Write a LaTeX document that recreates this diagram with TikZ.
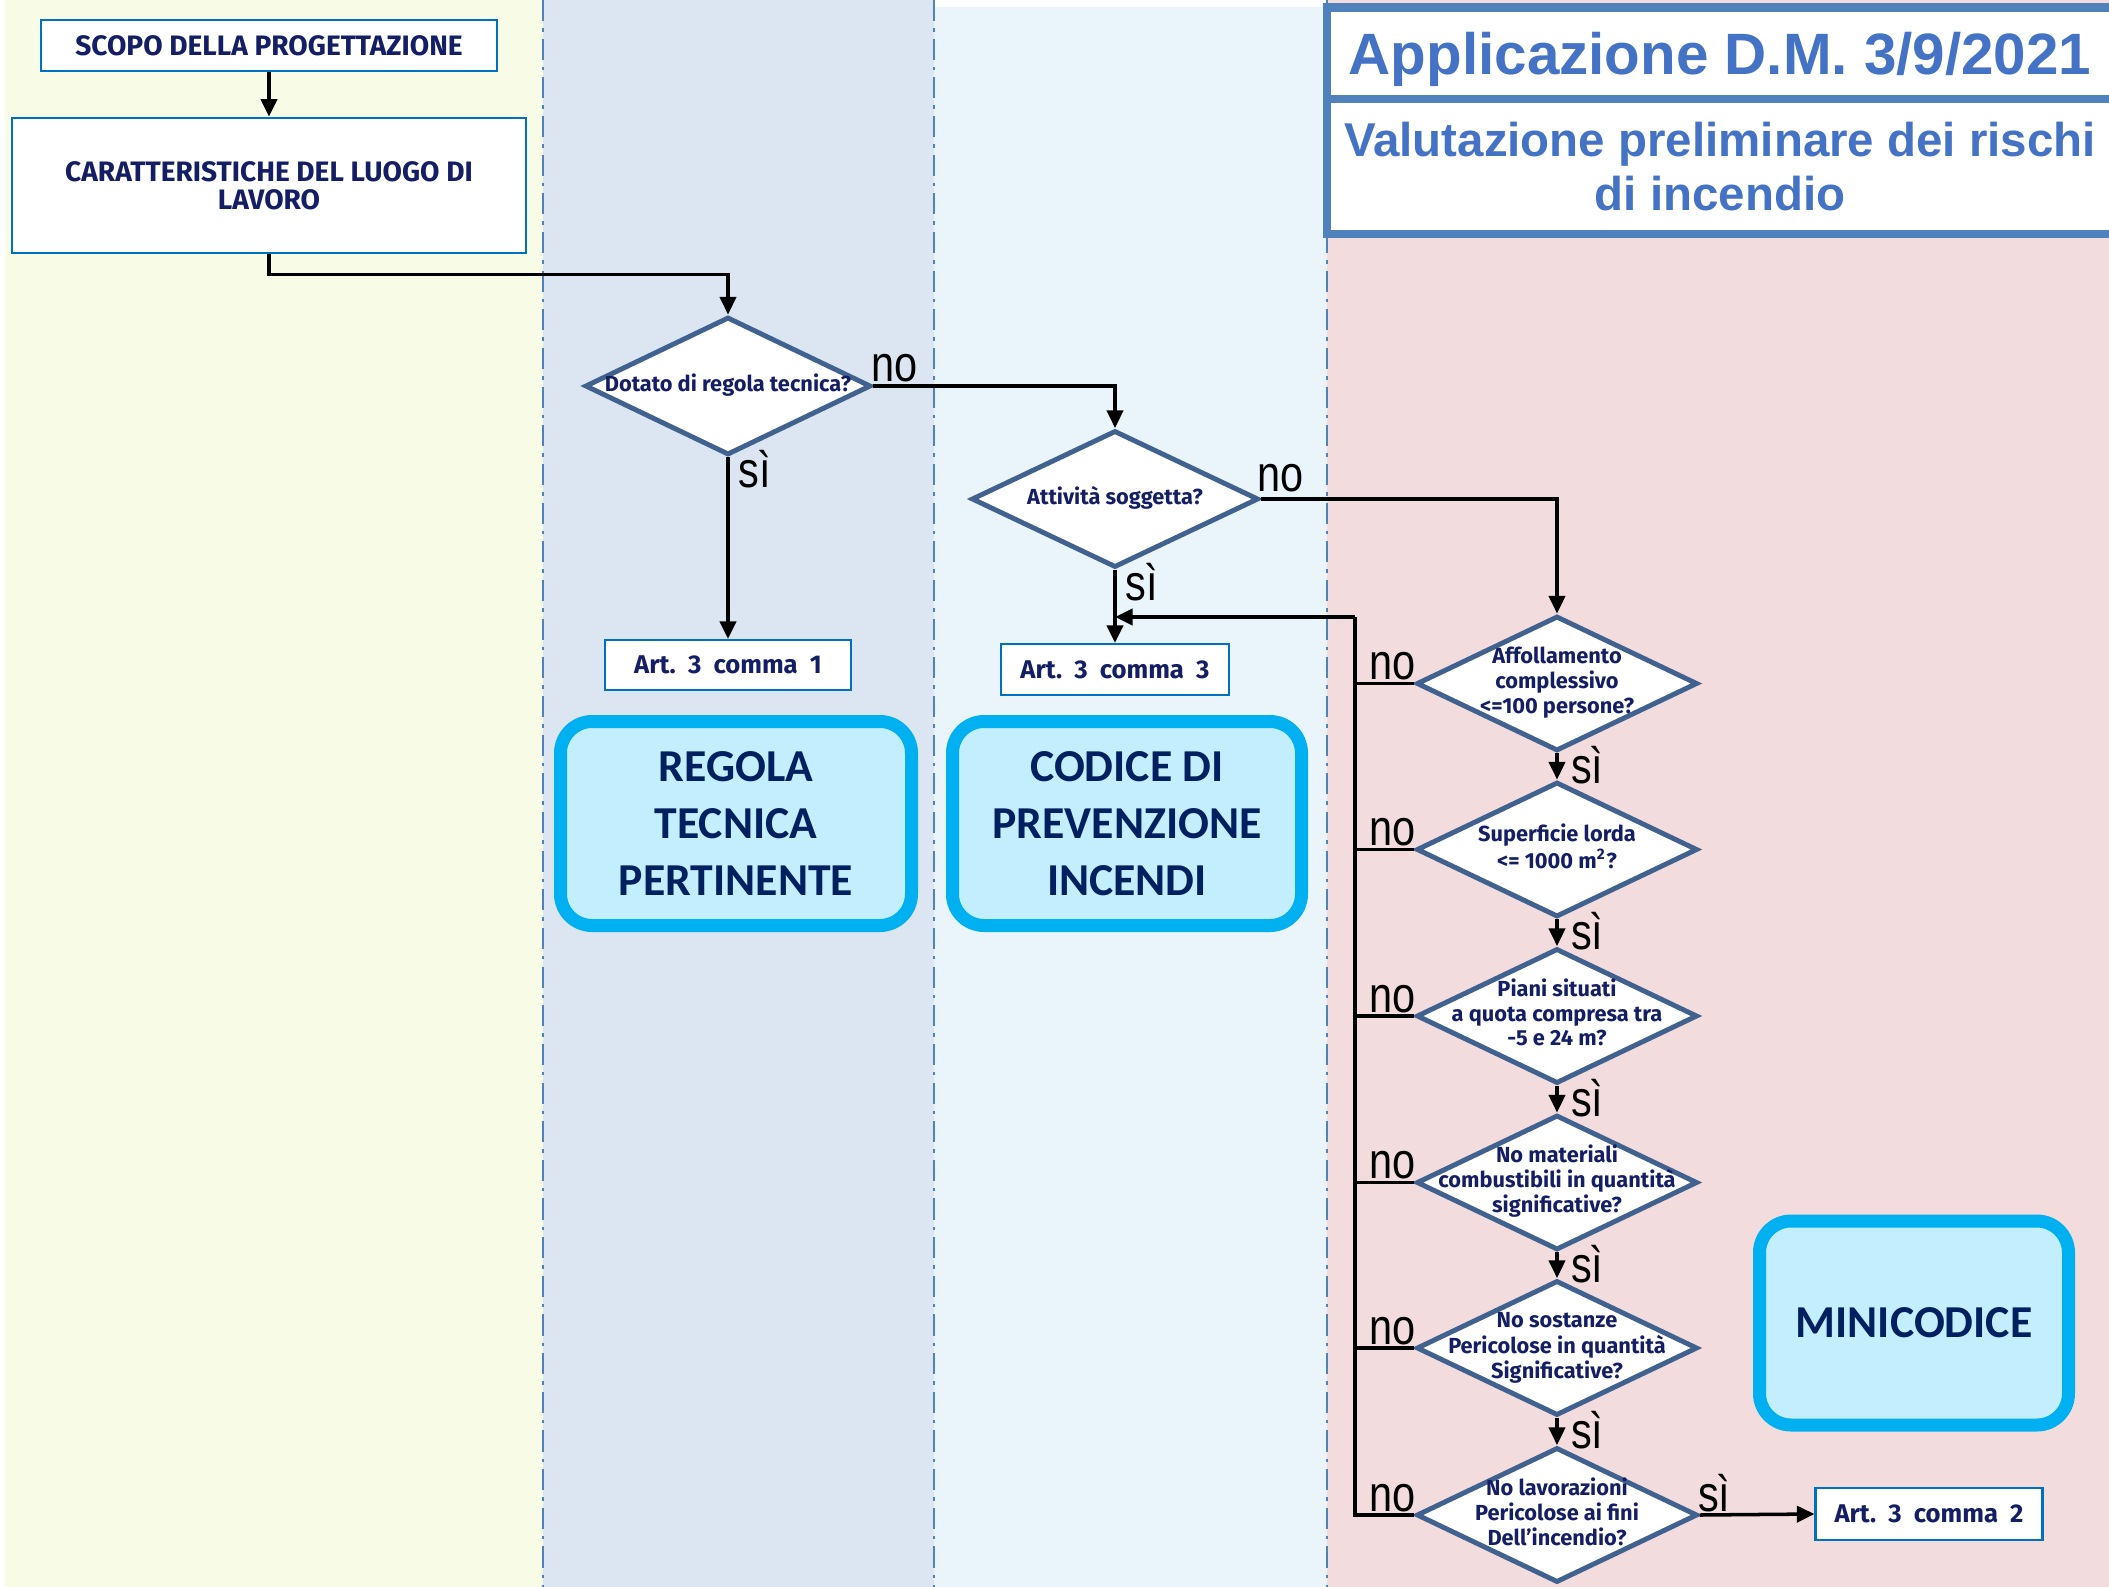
\documentclass[tikz,border=0pt]{standalone}
\usepackage{graphicx}
\usepackage{fontspec}
\setmainfont{Liberation Sans}
\newfontfamily\comicfont{Fira Sans}
\newfontfamily\calfont{Carlito}
\usetikzlibrary{arrows.meta,positioning,shapes.geometric}
\definecolor{laneyellow}{RGB}{248,252,230}
\definecolor{lanegray}{RGB}{220,230,242}
\definecolor{laneblue}{RGB}{234,245,251}
\definecolor{lanepink}{RGB}{242,220,222}
\definecolor{laneline}{RGB}{79,129,189}
\definecolor{diaborder}{RGB}{65,98,143}
\definecolor{navytext}{RGB}{20,30,100}
\definecolor{boxblue}{RGB}{0,112,192}
\definecolor{cyanedge}{RGB}{0,176,240}
\definecolor{cyanfill}{RGB}{194,238,254}
\definecolor{darknavy}{RGB}{0,32,96}
\definecolor{titleblue}{RGB}{68,114,196}
\definecolor{titleedge}{RGB}{79,129,189}
\newcommand{\dtext}[1]{\makebox[0pt]{\begin{tabular}{@{}c@{}}#1\end{tabular}}}
\newcommand{\tall}[1]{\scalebox{1}[1.22]{#1}}
\tikzset{
  % 泳道分隔线
  lanesep/.style={laneline, line width=0.6pt, dash pattern=on 6pt off 2pt on 1pt off 2pt},
  % 普通方框
  stepbox/.style={
    draw=boxblue,
    line width=0.8pt,
    fill=white,
    text=navytext,
    align=center,
    font=\comicfont\bfseries\fontsize{8}{8}\selectfont
  },
  artbox/.style={stepbox, line width=0.6pt, font=\comicfont\bfseries\fontsize{7.3}{8}\selectfont},
  % 判断菱形
  decision/.style={
    diamond,
    draw=diaborder,
    line width=1.4pt,
    fill=white,
    inner sep=0pt,
    minimum width=2.81cm,
    minimum height=1.35cm,
    text=navytext,
    font=\comicfont\bfseries\fontsize{6.2}{7}\selectfont
  },
  % 结论圆角框
  outcome/.style={
    draw=cyanedge,
    line width=3.7pt,
    fill=cyanfill,
    rounded corners=9pt,
    minimum height=2.04cm,
    text=darknavy,
    align=center,
    font=\calfont\bfseries\fontsize{13}{16.3}\selectfont
  },
  % 标题框
  headbox/.style={
    draw=titleedge,
    line width=2.3pt,
    fill=white,
    outer sep=0pt,
    minimum width=7.86cm,
    text=titleblue,
    align=center
  },
  % 箭头样式
  arr/.style={-{Triangle[length=5pt,width=4.6pt]}, line width=1pt, black},
  link/.style={line width=1pt, black},
  yn/.style={font=\fontsize{11.8}{12}\selectfont, inner sep=0.5pt},
}

\begin{document}
\begin{tikzpicture}[x=1cm, y=-1cm]
    \useasboundingbox (0,0) rectangle (21.09,15.87);

    % lanes
    \fill[laneyellow] (0.05,0) rectangle (5.43,15.87);
    \fill[lanegray] (5.43,0) rectangle (9.34,15.87);
    \fill[laneblue] (9.34,0.07) rectangle (13.27,15.87);
    \fill[lanepink] (13.27,0) rectangle (21.09,15.87);
    \draw[lanesep] (5.43,0) -- (5.43,15.87);
    \draw[lanesep] (9.34,0) -- (9.34,15.87);
    \draw[lanesep] (13.27,0) -- (13.27,15.87);

    % title
    \node[headbox, minimum height=0.915cm, text depth=0pt, font=\bfseries\fontsize{16.6}{19}\selectfont] (title) at (17.20,0.5325) {Applicazione D.M. 3/9/2021};
    \node[headbox, minimum height=1.35cm, below=0pt of title, font=\bfseries\fontsize{13.5}{15.6}\selectfont] (subtitle) {Valutazione preliminare dei rischi\\di incendio};

    % left lanes
    \node[stepbox, minimum width=4.56cm, minimum height=0.51cm] (scopo) at (2.69,0.455) {SCOPO DELLA PROGETTAZIONE};
    \node[stepbox, minimum width=5.14cm, minimum height=1.35cm] (luogo) at (2.69,1.855) {CARATTERISTICHE DEL LUOGO DI\\LAVORO};
    \node[decision, minimum width=2.86cm, minimum height=1.38cm] (dotato) at (7.28,3.86) {\dtext{Dotato di regola tecnica?}};
    \node[decision, minimum width=2.87cm, minimum height=1.37cm] (attivita) at (11.15,4.99) {\dtext{Attività soggetta?}};
    \node[artbox, minimum width=2.46cm, minimum height=0.50cm] (art1) at (7.28,6.65) {Art.~~3 ~comma~ 1};
    \node[artbox, minimum width=2.28cm, minimum height=0.51cm] (art3) at (11.15,6.695) {Art.~~3 ~comma~ 3};
    \node[outcome, minimum width=3.51cm] (regola) at (7.36,8.235) {REGOLA\\TECNICA\\PERTINENTE};
    \node[outcome, minimum width=3.49cm] (codice) at (11.27,8.235) {CODICE DI\\PREVENZIONE\\INCENDI};

    % right lane
    \node[decision] (affoll) at (15.57,6.835) {\dtext{Affollamento\\complessivo\\<=100 persone?}};
    \node[decision] (superf) at (15.57,8.495) {\dtext{Superficie lorda\\<= 1000 m\textsuperscript{2}?}};
    \node[decision] (piani) at (15.57,10.16) {\dtext{Piani situati\\a quota compresa tra\\-5 e 24 m?}};
    \node[decision] (materiali) at (15.57,11.825) {\dtext{No materiali\\combustibili in quantità\\significative?}};
    \node[decision] (sostanze) at (15.57,13.48) {\dtext{No sostanze\\Pericolose in quantità\\Significative?}};
    \node[decision] (lavoraz) at (15.57,15.15) {\dtext{No lavorazioni\\Pericolose ai fini\\Dell’incendio?}};
    \node[artbox, minimum width=2.27cm, minimum height=0.52cm] (art2) at (19.29,15.14) {Art.~~3 ~comma~ 2};
    \node[outcome, minimum width=3.09cm] (mini) at (19.14,13.23) {MINICODICE};
    \coordinate (bustop) at (13.55,6.17);

    % connectors
    \draw[arr] (scopo) -- (luogo);
    \draw[arr] (luogo.south) |- ([yshift=11.4pt]dotato.north) -- (dotato.north);
    \draw[arr] (dotato.east) -| (attivita.north) node[pos=0, yn, anchor=south west, xshift=-1.5pt] {\tall{no}};
    \draw[arr] (dotato.south) -- (art1.north) node[pos=0, yn, anchor=north west, xshift=2pt, yshift=3pt] {\tall{sì}};
    \draw[arr] (attivita.east) -| (affoll.north) node[pos=0, yn, anchor=south west, xshift=-2pt, yshift=1pt] {\tall{no}};
    \draw[arr] (attivita.south) -- (art3.north) node[pos=0, yn, anchor=north west, xshift=2pt, yshift=3pt] {\tall{sì}};
    \draw[link] (lavoraz.west) -| (bustop);
    \draw[arr] (bustop) -- (attivita.south |- bustop);
    \foreach \q in {affoll,superf,piani,materiali,sostanze,lavoraz}{
        \draw[link] (\q.west) -- (\q.west -| bustop) node[pos=0, yn, anchor=south east, xshift=1.5pt] {\tall{no}};
    }
    \foreach \a/\b in {affoll/superf,superf/piani,piani/materiali,materiali/sostanze,sostanze/lavoraz}{
        \draw[arr] (\a.south) -- (\b.north) node[pos=0, yn, anchor=north west, xshift=3pt, yshift=3pt] {\tall{sì}};
    }
    \draw[arr] (lavoraz.east) -- (art2.west) node[pos=0, yn, anchor=south west, xshift=-1.5pt] {\tall{sì}};
\end{tikzpicture}
\end{document}
